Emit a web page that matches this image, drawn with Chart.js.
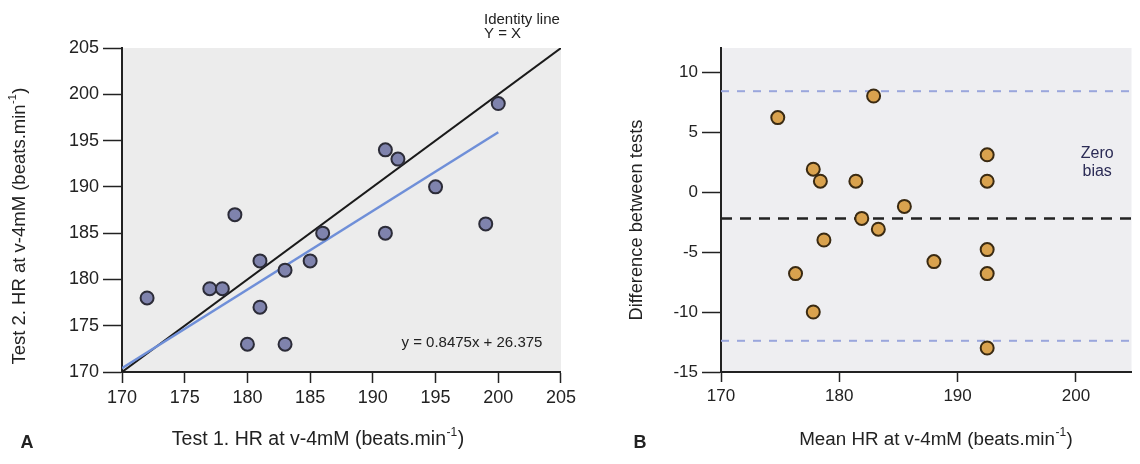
<!DOCTYPE html>
<html>
<head>
<meta charset="utf-8">
<script src="https://cdn.jsdelivr.net/npm/chart.js@4.4.1/dist/chart.umd.min.js"></script>
<style>
  body { margin: 0; background: #fff; }
  #wrap { position: relative; width: 1140px; height: 464px; }
  .box { position: absolute; top: 0; height: 464px; }
  #boxA { left: 0; width: 580px; }
  #boxB { left: 580px; width: 560px; }
</style>
</head>
<body>
<div id="wrap">
  <div class="box" id="boxA"><canvas id="chartA" width="580" height="464"></canvas></div>
  <div class="box" id="boxB"><canvas id="chartB" width="560" height="464"></canvas></div>
</div>
<script>
// Panel A - test 1 vs test 2 HR
const test1 = [172, 177, 178, 179, 180, 181, 181, 183, 183, 185, 186, 191, 191, 192, 195, 199, 200];
const test2 = [178, 179, 179, 187, 173, 182, 177, 181, 173, 182, 185, 194, 185, 193, 190, 186, 199];
const identityX = [170, 205];
const regLineX = [170, 200];
const regLineY = [170.4, 195.9];
const ticksA = [170, 175, 180, 185, 190, 195, 200, 205];

// Panel B - mean vs difference (Bland-Altman)
const meanHR = [174.8, 182.9, 177.8, 178.4, 181.4, 192.5, 192.5, 185.5, 181.9, 183.3, 178.7, 176.3, 177.8, 188.0, 192.5, 192.5, 192.5];
const diffHR = [6.2, 8.0, 1.9, 0.9, 0.9, 3.1, 0.9, -1.2, -2.2, -3.1, -4.0, -6.8, -10.0, -5.8, -4.8, -6.8, -13.0];
const limitX = [170, 204.7];
const upperLimit = 8.4;
const biasLine = -2.2;
const lowerLimit = -12.4;
const ticksBx = [170, 180, 190, 200];
const ticksBy = [-15, -10, -5, 0, 5, 10];

const FONT = "'Liberation Sans', Arial, sans-serif";
Chart.defaults.font.family = FONT;

// draws text with an optional superscript part
function drawText(ctx, it, x, y) {
  const size = it.size || 14;
  const main = (it.bold ? "bold " : "") + size + "px " + FONT;
  const small = Math.round(size * 0.62) + "px " + FONT;
  ctx.save();
  ctx.fillStyle = it.color || "#222";
  ctx.textBaseline = "middle";
  ctx.textAlign = "left";
  ctx.font = main;
  let w1 = ctx.measureText(it.text).width;
  let w3 = it.tail ? ctx.measureText(it.tail).width : 0;
  ctx.font = small;
  let w2 = it.sup ? ctx.measureText(it.sup).width + 1 : 0;
  const total = w1 + w2 + w3;
  ctx.translate(x, y);
  if (it.rot) ctx.rotate(it.rot);
  let left = it.align === "left" ? 0 : -total / 2;
  ctx.font = main;
  ctx.fillText(it.text, left, 0);
  if (it.sup) {
    ctx.font = small;
    ctx.fillText(it.sup, left + w1 + 0.5, -size * 0.38);
  }
  if (it.tail) {
    ctx.font = main;
    ctx.fillText(it.tail, left + w1 + w2, 0);
  }
  ctx.restore();
}

const notesPlugin = {
  id: "notes",
  beforeDraw(chart, args, opts) {
    const { ctx, chartArea: a } = chart;
    ctx.save();
    ctx.fillStyle = opts.bg;
    ctx.fillRect(a.left, a.top, a.right - a.left, a.bottom - a.top);
    ctx.restore();
  },
  afterDraw(chart, args, opts) {
    const sx = chart.scales.x, sy = chart.scales.y;
    opts.items.forEach(it => {
      const x = it.px !== undefined ? it.px : sx.getPixelForValue(it.x);
      const y = it.py !== undefined ? it.py : sy.getPixelForValue(it.y);
      drawText(chart.ctx, it, x, y);
    });
  }
};

function axis(min, max, tickVals, tickLen, size, fit) {
  return {
    type: "linear",
    min: min,
    max: max,
    afterBuildTicks: s => { s.ticks = tickVals.map(v => ({ value: v })); },
    afterFit: fit,
    grid: { drawOnChartArea: false, drawTicks: true, tickLength: tickLen, color: "#222", tickColor: "#222", tickWidth: 1.5 },
    border: { display: true, color: "#222", width: 2 },
    ticks: { color: "#222", font: { size: size }, padding: 4 }
  };
}

function lineSet(xs, ys, color, width, dash, order) {
  return {
    data: xs.map((x, i) => ({ x: x, y: ys[i] })),
    showLine: true,
    borderColor: color,
    borderWidth: width,
    borderDash: dash,
    pointRadius: 0,
    order: order
  };
}

const chartA = new Chart(document.getElementById("chartA"), {
  type: "scatter",
  data: {
    datasets: [
      {
        data: test1.map((x, i) => ({ x: x, y: test2[i] })),
        pointRadius: 6.5,
        backgroundColor: "#7f83ad",
        borderColor: "#2c2c38",
        borderWidth: 2,
        order: 0
      },
      lineSet(regLineX, regLineY, "#6f8fd8", 2.5, [], 1),
      lineSet(identityX, identityX, "#1a1a1a", 2, [], 2)
    ]
  },
  options: {
    responsive: false,
    animation: false,
    layout: { padding: { top: 48, right: 17, left: 0, bottom: 0 } },
    scales: {
      x: axis(170, 205, ticksA, 11, 18, s => { s.height = 92; }),
      y: axis(170, 205, ticksA, 19, 18, s => { s.width = 122; })
    },
    plugins: {
      legend: { display: false },
      tooltip: { enabled: false },
      notes: {
        bg: "#ececec",
        items: [
          { text: "Identity line", px: 484, py: 20, size: 15, align: "left" },
          { text: "Y = X", px: 484, py: 34, size: 15, align: "left" },
          { text: "y = 0.8475x + 26.375", x: 197.9, y: 173.2, size: 15 },
          { text: "Test 1. HR at v-4mM (beats.min", sup: "-1", tail: ")", px: 318, py: 440, size: 19.5 },
          { text: "Test 2. HR at v-4mM (beats.min", sup: "-1", tail: ")", px: 20, py: 226, size: 18.5, rot: -Math.PI / 2 },
          { text: "A", px: 27, py: 443, size: 18, bold: true }
        ]
      }
    }
  },
  plugins: [notesPlugin]
});

const chartB = new Chart(document.getElementById("chartB"), {
  type: "scatter",
  data: {
    datasets: [
      {
        data: meanHR.map((x, i) => ({ x: x, y: diffHR[i] })),
        pointRadius: 6.5,
        backgroundColor: "#d9a24e",
        borderColor: "#3a2a12",
        borderWidth: 2,
        order: 0
      },
      lineSet(limitX, [upperLimit, upperLimit], "#9aa6dc", 2, [8, 8], 1),
      lineSet(limitX, [biasLine, biasLine], "#222", 2.5, [11, 8], 1),
      lineSet(limitX, [lowerLimit, lowerLimit], "#9aa6dc", 2, [8, 8], 1)
    ]
  },
  options: {
    responsive: false,
    animation: false,
    layout: { padding: { top: 48, right: 5, left: 0, bottom: 0 } },
    scales: {
      x: axis(170, 204.7, ticksBx, 10, 17, s => { s.height = 92; }),
      y: axis(-15, 12, ticksBy, 19, 17, s => { s.width = 141; })
    },
    plugins: {
      legend: { display: false },
      tooltip: { enabled: false },
      notes: {
        bg: "#eeeef1",
        items: [
          { text: "Zero", x: 201.8, y: 3.2, size: 16, color: "#2b2b55" },
          { text: "bias", x: 201.8, y: 1.7, size: 16, color: "#2b2b55" },
          { text: "Mean HR at v-4mM (beats.min", sup: "-1", tail: ")", px: 356, py: 440, size: 18.8 },
          { text: "Difference between tests", px: 57, py: 220, size: 18.3, rot: -Math.PI / 2 },
          { text: "B", px: 60, py: 443, size: 18, bold: true }
        ]
      }
    }
  },
  plugins: [notesPlugin]
});
</script>
</body>
</html>
